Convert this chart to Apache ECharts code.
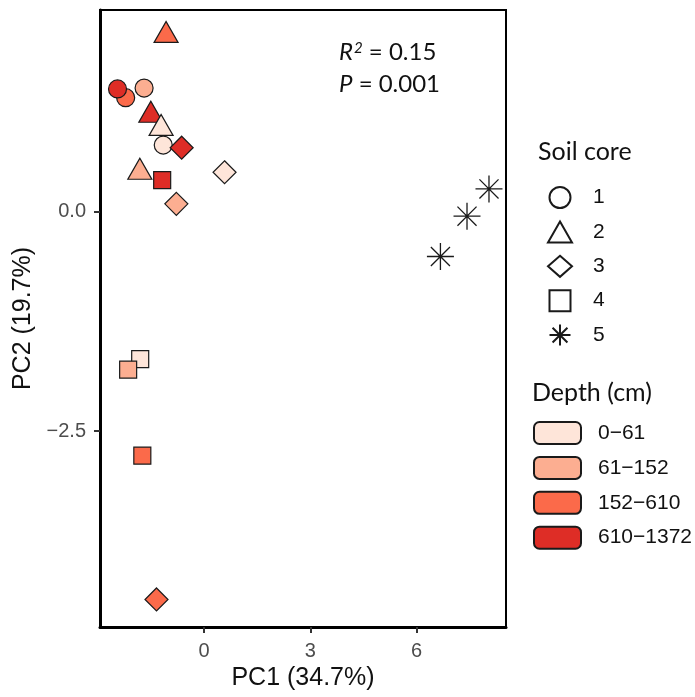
<!DOCTYPE html>
<html>
<head>
    <meta charset="UTF-8">
    <title>PCA soil core</title>
    <script src="https://cdn.jsdelivr.net/npm/echarts@6/dist/echarts.min.js"></script>
    <style>
        html, body { margin: 0; padding: 0; background: #fff; }
        #main { width: 695px; height: 697px; }
    </style>
</head>
<body>
<div id="main"></div>
<script type="text/javascript">
    // 数据：每个样点的 PC1 / PC2、所属土芯 和 深度层
    var pc1 = [-2.21, -2.44, -1.69, -1.15,
               -1.07, -1.50, -1.21, -1.81,
               -0.63, 0.58, -0.78, -1.34,
               -1.18, -1.80, -2.14, -1.74,
               8.04, 7.42, 6.67];
    var pc2 = [1.30, 1.40, 1.41, 0.76,
               2.05, 1.14, 0.99, 0.49,
               0.73, 0.45, 0.09, -4.42,
               0.36, -1.68, -1.80, -2.78,
               0.26, -0.05, -0.51];
    var coreOf = [1, 1, 1, 1,
                  2, 2, 2, 2,
                  3, 3, 3, 3,
                  4, 4, 4, 4,
                  5, 5, 5];
    var depthOf = [2, 3, 1, 0,
                   2, 3, 0, 1,
                   3, 0, 1, 2,
                   3, 0, 1, 2,
                   -1, -1, -1];

    var coreNames = ['1', '2', '3', '4', '5'];
    var depthNames = ['0\u221261', '61\u2212152', '152\u2212610', '610\u22121372'];
    var depthColors = ['#FEE5D9', '#FCAE91', '#FB6A4A', '#DE2D26'];
    var xTicks = [0, 3, 6];
    var yTicks = [-2.5, 0];

    var starPath = 'path://M0,-10L0,10M-10,0L10,0M-7.07,-7.07L7.07,7.07M-7.07,7.07L7.07,-7.07';
    var squarePath = 'path://M0,0L10,0L10,10L0,10Z';
    var coreSymbols = ['circle', 'triangle', 'diamond', 'rect', starPath];
    var coreSizes = [18, [24, 21], [23, 23], [17, 17], [27, 27]];
    var legendIcons = ['circle', 'triangle', 'diamond', squarePath, starPath];

    function minusFmt(v, digits) {
        var s = Math.abs(v).toFixed(digits);
        return v < 0 ? '\u2212' + s : s;
    }

    var series = [];
    coreNames.forEach(function (name, ci) {
        var pts = [];
        for (var i = 0; i < pc1.length; i++) {
            if (coreOf[i] !== ci + 1) continue;
            var d = depthOf[i];
            var item = { value: [pc1[i], pc2[i]] };
            if (d >= 0) {
                item.itemStyle = { color: depthColors[d] };
            }
            pts.push(item);
        }
        var isStar = ci === 4;
        series.push({
            name: name,
            type: 'scatter',
            symbol: coreSymbols[ci],
            symbolSize: coreSizes[ci],
            data: pts,
            itemStyle: {
                color: isStar ? 'rgba(0,0,0,0)' : '#ffffff',
                borderColor: '#1a1a1a',
                borderWidth: isStar ? 1.3 : 1.2,
                opacity: 1
            },
            emphasis: { disabled: true }
        });
    });
    // 深度图例用的空系列
    depthNames.forEach(function (name, di) {
        series.push({
            name: name,
            type: 'scatter',
            data: [],
            itemStyle: { color: depthColors[di], borderColor: '#1a1a1a', borderWidth: 1.5, opacity: 1 }
        });
    });

    var titleFont = { fontFamily: 'Lato', fontWeight: 'normal', fontSize: 25, lineHeight: 28, color: '#111' };

    var myChart = echarts.init(document.getElementById('main'));
    var option = {
        animation: false,
        backgroundColor: '#ffffff',
        grid: {
            left: 100, right: 189, top: 10, bottom: 70,
            show: true,
            borderColor: '#000',
            borderWidth: 2
        },
        title: [{
            text: 'Soil core',
            left: 538, top: 138, padding: 0,
            textStyle: titleFont
        }, {
            text: 'Depth (cm)',
            left: 532, top: 379, padding: 0,
            textStyle: titleFont
        }, {
            text: '{i|R}{sup|2} = 0.15\n{i|P} = 0.001',
            left: 339, top: 36, padding: 0,
            textStyle: {
                fontFamily: 'Lato', fontWeight: 'normal', fontSize: 24, lineHeight: 32, color: '#111',
                rich: {
                    i: { fontFamily: 'Lato', fontStyle: 'italic', fontSize: 24, lineHeight: 32, color: '#111' },
                    sup: { fontFamily: 'Lato', fontStyle: 'italic', fontSize: 15, lineHeight: 32, verticalAlign: 'top', padding: [5, 0, 0, 1], color: '#111' }
                }
            }
        }],
        legend: [{
            data: coreNames.map(function (n, i) { return { name: n, icon: legendIcons[i] }; }),
            orient: 'vertical',
            left: 547, top: 186, padding: 0,
            itemWidth: 24, itemHeight: 21, itemGap: 11.4,
            selectedMode: false,
            textStyle: { fontFamily: 'Liberation Sans', fontSize: 21, lineHeight: 21, color: '#111', padding: [0, 0, 0, 16] }
        }, {
            data: depthNames.map(function (n) { return { name: n, icon: 'roundRect' }; }),
            orient: 'vertical',
            left: 533, top: 421, padding: 0,
            itemWidth: 47, itemHeight: 22, itemGap: 10.9,
            selectedMode: false,
            textStyle: { fontFamily: 'Liberation Sans', fontSize: 21, lineHeight: 22, color: '#111', padding: [0, 0, 0, 12] }
        }],
        xAxis: {
            type: 'value',
            min: -2.934, max: 8.52,
            name: 'PC1 (34.7%)',
            nameLocation: 'middle',
            nameGap: 38,
            nameTextStyle: { fontFamily: 'Liberation Sans', fontSize: 25, color: '#111' },
            axisLine: { show: true, onZero: false, lineStyle: { color: '#000', width: 3 } },
            axisTick: { show: true, customValues: xTicks, length: 6, lineStyle: { color: '#333', width: 2 } },
            axisLabel: {
                customValues: xTicks, margin: 14,
                fontFamily: 'Liberation Sans', fontSize: 20, color: '#4D4D4D',
                formatter: function (v) { return minusFmt(v, 0); }
            },
            splitLine: { show: false }
        },
        yAxis: {
            type: 'value',
            min: -4.734, max: 2.30,
            name: 'PC2 (19.7%)',
            nameLocation: 'middle',
            nameGap: 61,
            nameTextStyle: { fontFamily: 'Liberation Sans', fontSize: 25, color: '#111' },
            axisLine: { show: true, onZero: false, lineStyle: { color: '#000', width: 3 } },
            axisTick: { show: true, customValues: yTicks, length: 6, lineStyle: { color: '#333', width: 2 } },
            axisLabel: {
                customValues: yTicks, margin: 14,
                fontFamily: 'Liberation Sans', fontSize: 20, color: '#4D4D4D',
                formatter: function (v) { return minusFmt(v, 1); }
            },
            splitLine: { show: false }
        },
        series: series
    };
    myChart.setOption(option);
</script>
</body>
</html>
